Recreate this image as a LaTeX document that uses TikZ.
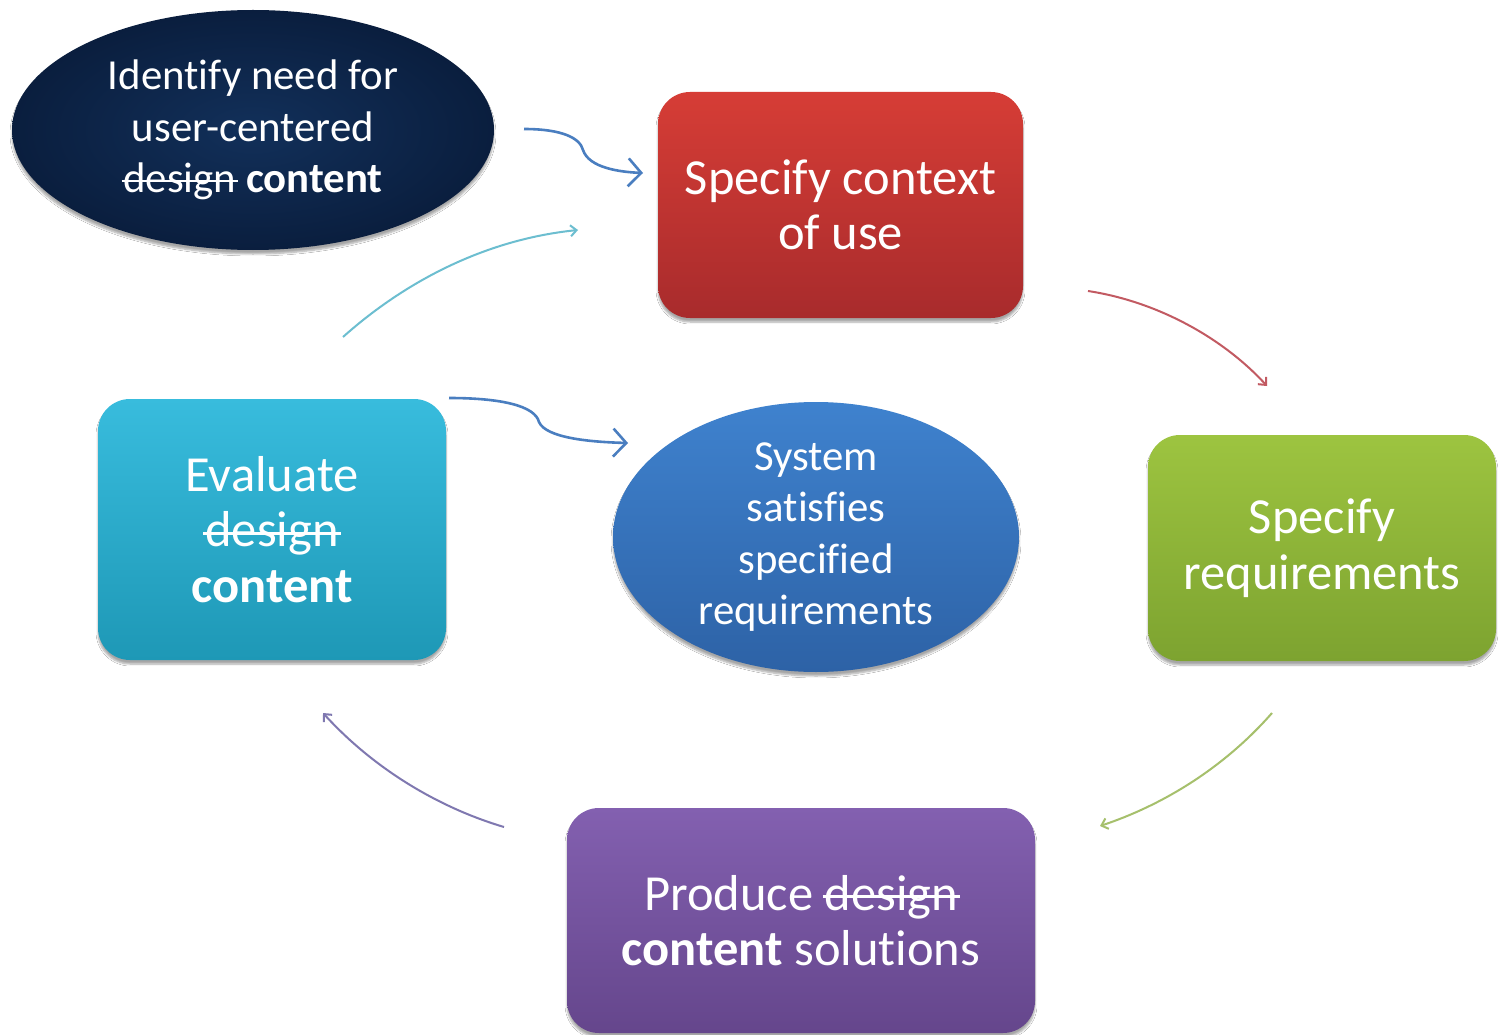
\documentclass[tikz,border=0pt]{standalone}
\usepackage{fontspec}
\setmainfont{Carlito}[Ligatures={NoCommon}]
\usetikzlibrary{arrows.meta,shapes.geometric,shadows.blur}
\newsavebox{\strkbox}
\newcommand{\strk}[1]{\sbox{\strkbox}{#1}\rlap{\hspace{-0.04em}\rule[0.24em]{\dimexpr\wd\strkbox+0.08em\relax}{0.055em}}\usebox{\strkbox}}
\definecolor{navyA}{HTML}{12305A}
\definecolor{navyB}{HTML}{0A1E3E}
\definecolor{redA}{HTML}{D63D36}
\definecolor{redB}{HTML}{A82B2C}
\definecolor{grnA}{HTML}{9DC440}
\definecolor{grnB}{HTML}{7DA330}
\definecolor{purA}{HTML}{8360B0}
\definecolor{purB}{HTML}{65468C}
\definecolor{cyaA}{HTML}{38BCDD}
\definecolor{cyaB}{HTML}{1E98B6}
\definecolor{bluA}{HTML}{3F82CE}
\definecolor{bluB}{HTML}{2D62A6}
\definecolor{arBlue}{HTML}{4A7EC0}
\definecolor{arCyan}{HTML}{6CBED0}
\definecolor{arRed}{HTML}{C25A62}
\definecolor{arGreen}{HTML}{A6C06C}
\definecolor{arPurple}{HTML}{7F78B0}
\tikzset{
  box/.style={rounded corners=32pt, inner sep=0pt, align=center, text=white,
    blur shadow={shadow xshift=0pt, shadow yshift=-4pt, shadow opacity=35, shadow blur steps=6}},
  oval/.style={ellipse, inner sep=0pt, align=center, text=white,
    blur shadow={shadow xshift=0pt, shadow yshift=-4pt, shadow opacity=35, shadow blur steps=6}},
  bigtxt/.style={font=\fontsize{50.5}{55.5}\selectfont},
  midtxt/.style={font=\fontsize{42.8}{51.5}\selectfont},
  squig/.style={draw=arBlue, line width=2.6pt, -{Straight Barb[length=13pt,width=28pt,line width=2.6pt]}},
  arc/.style={line width=2pt, -{Straight Barb[length=6pt,width=11pt,line width=2pt]}},
}
\begin{document}
\begin{tikzpicture}[x=1pt,y=-1pt]
\useasboundingbox (0,0) rectangle (1499,1035);
\fill[white] (0,0) rectangle (1499,1035);

\node[oval, minimum width=482pt, minimum height=240pt, inner color=navyA, outer color=navyB, midtxt] (need) at (253,130)
  {Identify need for\\user-centered\\\strk{design} \textbf{content}};

\node[box, minimum width=365pt, minimum height=226pt, top color=redA, bottom color=redB, bigtxt] (ctx) at (840.5,205)
  {Specify context\\of use};

\node[box, minimum width=348pt, minimum height=226pt, top color=grnA, bottom color=grnB, bigtxt] (req) at (1322,548)
  {Specify\\requirements};

\node[box, minimum width=468pt, minimum height=225pt, top color=purA, bottom color=purB, bigtxt] (prod) at (801,920.5)
  {Produce \strk{design}\\\textbf{content} solutions};

\node[box, minimum width=348pt, minimum height=261pt, top color=cyaA, bottom color=cyaB, bigtxt] (eval) at (272,529.5)
  {Evaluate\\\strk{design}\\\textbf{content}};

\node[oval, minimum width=406pt, minimum height=270pt, top color=bluA, bottom color=bluB, midtxt] (sys) at (816,537)
  {System\\satisfies\\specified\\requirements};

% connector end points
\coordinate (s1a) at (524,129);
\coordinate (s1b) at (643,173);
\coordinate (s2a) at (449,398);
\coordinate (s2b) at (628,443);
\coordinate (c1a) at (343,337);
\coordinate (c1b) at (578,230);
\coordinate (r1a) at (1088,291);
\coordinate (r1b) at (1267,386);
\coordinate (g1a) at (1272,713);
\coordinate (g1b) at (1100,826);
\coordinate (p1a) at (504,827);
\coordinate (p1b) at (323,713);

\draw[squig] (s1a) .. controls (562,129) and (580,138) .. (583,150)
  .. controls (589,168) and (620,172) .. (s1b);
\draw[squig] (s2a) .. controls (502,398) and (535,406) .. (539,422)
  .. controls (546,438) and (590,442) .. (s2b);

\draw[arc, draw=arCyan] (c1a) .. controls (400,286) and (480,240) .. (c1b);
\draw[arc, draw=arRed] (r1a) .. controls (1160,302) and (1225,340) .. (r1b);
\draw[arc, draw=arGreen] (g1a) .. controls (1222,770) and (1160,806) .. (g1b);
\draw[arc, draw=arPurple] (p1a) .. controls (440,808) and (375,770) .. (p1b);
\end{tikzpicture}
\end{document}
